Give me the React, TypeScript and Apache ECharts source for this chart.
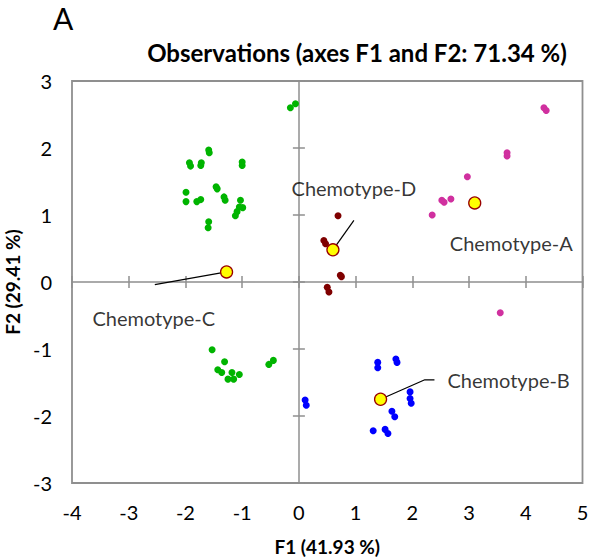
import React, { useEffect, useRef } from "react";
import * as echarts from "echarts";

const xTicks = [-4, -3, -2, -1, 0, 1, 2, 3, 4, 5];
const yTicks = [-3, -2, -1, 0, 1, 2, 3];

const groupC: number[][] = [
  [-0.15, 2.6], [-0.06, 2.66], [-1.59, 1.97], [-1.58, 1.93], [-1.93, 1.78], [-1.91, 1.73],
  [-1.72, 1.78], [-1.73, 1.74], [-1.0, 1.79], [-1.0, 1.74], [-1.99, 1.34], [-1.99, 1.2],
  [-1.46, 1.42], [-1.44, 1.39], [-1.8, 1.2], [-1.73, 1.23], [-1.32, 1.27], [-1.3, 1.22],
  [-1.03, 1.22], [-1.05, 1.12], [-0.99, 1.11], [-1.09, 1.05], [-1.12, 0.99], [-1.59, 0.9],
  [-1.6, 0.81], [-1.53, -1.01], [-1.31, -1.19], [-1.43, -1.31], [-1.36, -1.35], [-1.18, -1.35],
  [-1.05, -1.38], [-1.25, -1.45], [-1.15, -1.45], [-0.53, -1.23], [-0.45, -1.17],
];
const groupB: number[][] = [
  [0.11, -1.76], [0.13, -1.84], [1.39, -1.2], [1.39, -1.28], [1.71, -1.15], [1.73, -1.2],
  [1.96, -1.64], [1.96, -1.74], [1.98, -1.81], [1.64, -1.93], [1.69, -2.01], [1.31, -2.22],
  [1.52, -2.2], [1.57, -2.26],
];
const groupD: number[][] = [
  [0.69, 0.99], [0.44, 0.62], [0.47, 0.57], [0.73, 0.1], [0.75, 0.08], [0.5, -0.08], [0.53, -0.15],
];
const groupA: number[][] = [
  [4.32, 2.6], [4.36, 2.56], [3.67, 1.93], [3.67, 1.88], [2.97, 1.57], [2.52, 1.22],
  [2.56, 1.19], [2.68, 1.24], [2.35, 1.0], [3.55, -0.46],
];
const centroids: number[][] = [
  [3.1, 1.18], [1.44, -1.75], [-1.275, 0.15], [0.6, 0.48],
];
const labelNames = ["Chemotype-A", "Chemotype-B", "Chemotype-C", "Chemotype-D"];
const labelPos: number[][] = [
  [2.66, 0.58], [2.62, -1.46], [-3.64, -0.53], [-0.13, 1.4],
];
const leaders: number[][][] = [
  [[1.44, -1.75], [2.22, -1.46], [2.39, -1.46]],
  [[-1.275, 0.15], [-2.54, -0.04]],
  [[0.6, 0.48], [0.97, 0.92]],
];

const FONT = "Lato, 'Open Sans', sans-serif";

export default function App() {
  const ref = useRef<HTMLDivElement>(null);
  useEffect(() => {
    if (!ref.current) return;
    const chart = echarts.init(ref.current, undefined, { renderer: "svg" });
    const axisCommon = {
      type: "value" as const,
      interval: 1,
      splitLine: { show: false },
    };
    const xBase = { ...axisCommon, min: xTicks[0], max: xTicks[xTicks.length - 1] };
    const yBase = { ...axisCommon, min: yTicks[0], max: yTicks[yTicks.length - 1] };
    const gray = "#8f8f8f";
    const scatter = (data: number[][], color: string) => ({
      type: "scatter",
      data,
      symbolSize: 7,
      itemStyle: { color, opacity: 1 },
      z: 3,
    });
    chart.setOption({
      animation: false,
      textStyle: { fontFamily: FONT },
      title: {
        text: "Observations (axes F1 and F2: 71.34 %)",
        left: 352,
        top: 35,
        textAlign: "center",
        textStyle: { fontFamily: FONT, fontSize: 24, fontWeight: "bold", color: "#000" },
      },
      graphic: [
        {
          type: "text",
          left: 53,
          top: 3,
          style: { text: "A", fontFamily: FONT, fontSize: 30, fill: "#000" },
        },
      ],
      grid: {
        left: 72,
        right: 6.5,
        top: 81,
        bottom: 76,
        show: true,
        borderColor: gray,
        borderWidth: 1.8,
        backgroundColor: "transparent",
        containLabel: false,
        outerBoundsMode: "none",
      },
      xAxis: [
        {
          ...xBase,
          position: "bottom",
          axisLine: { show: false, onZero: false },
          axisTick: { show: false },
          axisLabel: { fontSize: 20, color: "#000", margin: 19, fontFamily: FONT },
          name: "F1 (41.93 %)",
          nameLocation: "middle",
          nameGap: 54,
          nameTextStyle: { fontSize: 19, fontWeight: "bold", color: "#000", fontFamily: FONT },
        },
        {
          ...xBase,
          axisLine: { show: true, onZero: true, lineStyle: { color: gray, width: 1.5 } },
          axisTick: { show: true, inside: false, length: 6, lineStyle: { color: gray, width: 1.5 } },
          axisLabel: { show: false },
        },
        {
          ...xBase,
          axisLine: { show: false, onZero: true },
          axisTick: { show: true, inside: true, length: 6, lineStyle: { color: gray, width: 1.5 } },
          axisLabel: { show: false },
        },
      ],
      yAxis: [
        {
          ...yBase,
          position: "left",
          axisLine: { show: false, onZero: false },
          axisTick: { show: false },
          axisLabel: { fontSize: 20, color: "#000", margin: 20, fontFamily: FONT },
          name: "F2 (29.41 %)",
          nameLocation: "middle",
          nameGap: 47,
          nameTextStyle: { fontSize: 19, fontWeight: "bold", color: "#000", fontFamily: FONT },
        },
        {
          ...yBase,
          axisLine: { show: true, onZero: true, lineStyle: { color: gray, width: 1.5 } },
          axisTick: { show: true, inside: false, length: 6, lineStyle: { color: gray, width: 1.5 } },
          axisLabel: { show: false },
        },
        {
          ...yBase,
          axisLine: { show: false, onZero: true },
          axisTick: { show: true, inside: true, length: 6, lineStyle: { color: gray, width: 1.5 } },
          axisLabel: { show: false },
        },
      ],
      series: [
        scatter(groupC, "#00b400"),
        scatter(groupB, "#0000ff"),
        scatter(groupD, "#7f0000"),
        scatter(groupA, "#d0309f"),
        ...leaders.map((pts) => ({
          type: "line",
          data: pts,
          symbol: "none",
          lineStyle: { color: "#000", width: 1.2 },
          z: 2,
        })),
        {
          type: "scatter",
          data: centroids,
          symbolSize: 12,
          itemStyle: { color: "#ffff00", borderColor: "#990000", borderWidth: 1.3, opacity: 1 },
          z: 4,
        },
        {
          type: "scatter",
          data: labelPos.map((p, i) => ({ value: p, name: labelNames[i] })),
          symbolSize: 0,
          label: {
            show: true,
            position: "right",
            distance: 0,
            formatter: (p: any) => p.name,
            fontSize: 20,
            color: "#000",
            fontFamily: FONT,
          },
          z: 5,
        },
      ],
    });
    return () => chart.dispose();
  }, []);
  return <div ref={ref} style={{ width: 589, height: 559, position: "absolute", left: 0, top: 0 }} />;
}
